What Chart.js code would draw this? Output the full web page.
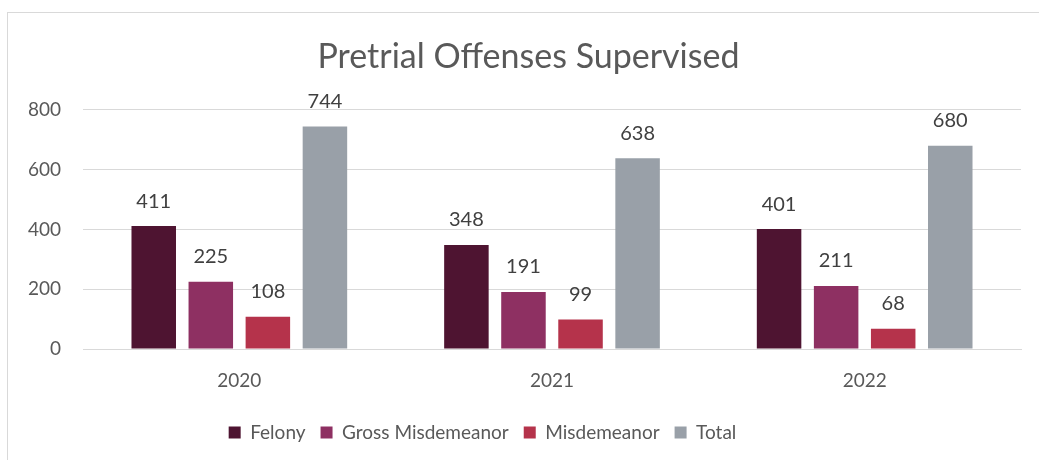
<!DOCTYPE html>
<html>
<head>
<meta charset="utf-8">
<script src="https://cdn.jsdelivr.net/npm/chart.js@4.4.0/dist/chart.umd.min.js"></script>
<style>
  html, body { margin: 0; padding: 0; background: #fff; overflow: hidden; }
  #frame { position: absolute; left: 7px; top: 12px; width: 1100px; height: 500px; border: 1px solid #d9d9d9; }
  #wrap { position: absolute; left: 0; top: 0; width: 1039px; height: 460px; }
</style>
</head>
<body>
<div id="frame"></div>
<div id="wrap"><canvas id="chart" width="1039" height="460"></canvas></div>
<script>
// ===== Data =====
const years = ["2020", "2021", "2022"];
const felony = [411, 348, 401];
const grossMisd = [225, 191, 211];
const misd = [108, 99, 68];
const total = [744, 638, 680];
const yTicks = [0, 200, 400, 600, 800];

const FONT = "Lato, 'Open Sans', sans-serif";

// value labels above each bar
const barLabels = {
  id: "barLabels",
  afterDatasetsDraw(chart) {
    const ctx = chart.ctx;
    ctx.save();
    ctx.font = "20px " + FONT;
    ctx.fillStyle = "#404040";
    ctx.textAlign = "center";
    ctx.textBaseline = "bottom";
    chart.data.datasets.forEach((ds, i) => {
      chart.getDatasetMeta(i).data.forEach((bar, j) => {
        ctx.fillText(ds.data[j], bar.x, bar.y - 15);
      });
    });
    ctx.restore();
  }
};

// title sits right of centre, legend left of centre in the original
const boxShift = {
  id: "boxShift",
  afterLayout(chart) {
    chart.titleBlock.left += 18;
    chart.titleBlock.right += 18;
    chart.legend.left -= 28;
    chart.legend.right -= 28;
  }
};

new Chart(document.getElementById("chart"), {
  type: "bar",
  data: {
    labels: years,
    datasets: [
      { label: "Felony", data: felony, backgroundColor: "#4e1431" },
      { label: "Gross Misdemeanor", data: grossMisd, backgroundColor: "#8e3062" },
      { label: "Misdemeanor", data: misd, backgroundColor: "#b5334b" },
      { label: "Total", data: total, backgroundColor: "#99a0a8" }
    ]
  },
  options: {
    responsive: false,
    animation: false,
    events: [],
    layout: { padding: { left: 0, right: 18, top: 0, bottom: 8 } },
    datasets: { bar: { categoryPercentage: 0.73, barPercentage: 0.78 } },
    plugins: {
      tooltip: { enabled: false },
      title: {
        display: true,
        text: "Pretrial Offenses Supervised",
        color: "#595959",
        font: { family: FONT, size: 34, weight: "normal" },
        padding: { top: 37, bottom: 32 }
      },
      legend: {
        position: "bottom",
        labels: {
          color: "#595959",
          font: { family: FONT, size: 19 },
          boxWidth: 12,
          boxHeight: 12,
          padding: 15
        }
      }
    },
    scales: {
      x: {
        grid: { display: false },
        border: { color: "#d9d9d9", width: 1 },
        ticks: { color: "#595959", font: { family: FONT, size: 19 }, padding: 12 },
        afterFit(s) { s.height = 59; }
      },
      y: {
        min: 0,
        max: 800,
        afterBuildTicks(s) { s.ticks = yTicks.map(v => ({ value: v })); },
        grid: { color: "#d9d9d9", drawTicks: false },
        border: { display: false },
        ticks: { color: "#595959", font: { family: FONT, size: 19 }, padding: 22 },
        afterFit(s) { s.width = 83; }
      }
    }
  },
  plugins: [barLabels, boxShift]
});
</script>
</body>
</html>
